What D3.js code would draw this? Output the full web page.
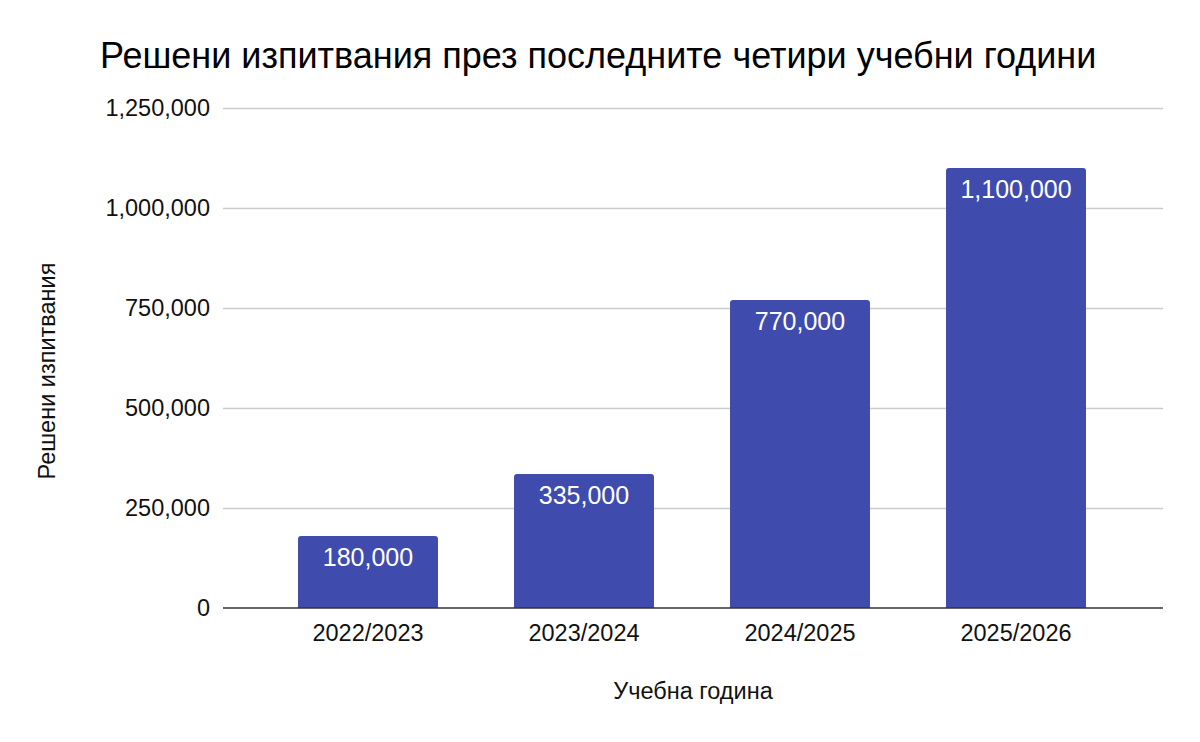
<!DOCTYPE html>
<html>
<head>
<meta charset="utf-8">
<script src="https://cdn.jsdelivr.net/npm/d3@7"></script>
<style>
  body { margin: 0; background: #fff; }
  svg { font-family: 'Liberation Sans', Arial, sans-serif; }
</style>
</head>
<body>
<svg id="chart"></svg>
<script>
const years = ['2022/2023', '2023/2024', '2024/2025', '2025/2026'];
const solved = [180000, 335000, 770000, 1100000];
const yTicks = [0, 250000, 500000, 750000, 1000000, 1250000];

const width = 1200;
const height = 742;

const svg = d3.select('#chart')
  .attr('width', width)
  .attr('height', height)
  .attr('viewBox', [0, 0, width, height]);

const data = years.map((y, i) => ({ year: y, value: solved[i] }));
const fmt = d3.format(',');

// X
const xScale = d3.scaleBand()
  .domain(years)
  .range([260, 1124])
  .paddingInner(0.352)
  .paddingOuter(0.176);

// Y
const yScale = d3.scaleLinear()
  .domain([0, 1250000])
  .range([608, 108]);

// Grid
svg.append('g')
  .selectAll('line')
  .data(yTicks.filter((d) => d > 0))
  .join('line')
  .attr('x1', 223)
  .attr('x2', 1163)
  .attr('y1', (d) => yScale(d) + 0.5)
  .attr('y2', (d) => yScale(d) + 0.5)
  .attr('stroke', '#cccccc')
  .attr('stroke-width', 1.5);

// Y tick labels
svg.append('g')
  .selectAll('text')
  .data(yTicks)
  .join('text')
  .attr('x', 210)
  .attr('y', (d) => yScale(d))
  .attr('dy', '0.36em')
  .attr('text-anchor', 'end')
  .attr('font-size', 23.5)
  .attr('fill', '#111')
  .text((d) => fmt(d));

// Bars (rounded top corners)
const r = 3;
svg.append('g')
  .selectAll('path')
  .data(data)
  .join('path')
  .attr('fill', '#3f4cad')
  .attr('d', (d) => {
    const x0 = xScale(d.year);
    const x1 = x0 + xScale.bandwidth();
    const y0 = yScale(0);
    const y1 = yScale(d.value);
    return `M${x0},${y0}V${y1 + r}Q${x0},${y1} ${x0 + r},${y1}H${x1 - r}Q${x1},${y1} ${x1},${y1 + r}V${y0}Z`;
  });

// Value labels
svg.append('g')
  .selectAll('text')
  .data(data)
  .join('text')
  .attr('x', (d) => xScale(d.year) + xScale.bandwidth() / 2)
  .attr('y', (d) => yScale(d.value) + 30)
  .attr('text-anchor', 'middle')
  .attr('font-size', 25)
  .attr('fill', '#ffffff')
  .text((d) => fmt(d.value));

// Baseline
svg.append('line')
  .attr('x1', 223)
  .attr('x2', 1163)
  .attr('y1', yScale(0))
  .attr('y2', yScale(0))
  .attr('stroke', '#333')
  .attr('stroke-width', 1.5);

// X tick labels
svg.append('g')
  .selectAll('text')
  .data(years)
  .join('text')
  .attr('x', (d) => xScale(d) + xScale.bandwidth() / 2)
  .attr('y', 641)
  .attr('text-anchor', 'middle')
  .attr('font-size', 23.5)
  .attr('fill', '#111')
  .text((d) => d);

// Axis titles
svg.append('text')
  .attr('x', 693)
  .attr('y', 699)
  .attr('text-anchor', 'middle')
  .attr('font-size', 23.5)
  .attr('fill', '#111')
  .text('Учебна година');

svg.append('text')
  .attr('transform', 'translate(55,371) rotate(-90)')
  .attr('text-anchor', 'middle')
  .attr('font-size', 23.5)
  .attr('fill', '#111')
  .text('Решени изпитвания');

// Title
svg.append('text')
  .attr('x', 100)
  .attr('y', 68)
  .attr('font-size', 36)
  .attr('fill', '#000')
  .text('Решени изпитвания през последните четири учебни години');
</script>
</body>
</html>
